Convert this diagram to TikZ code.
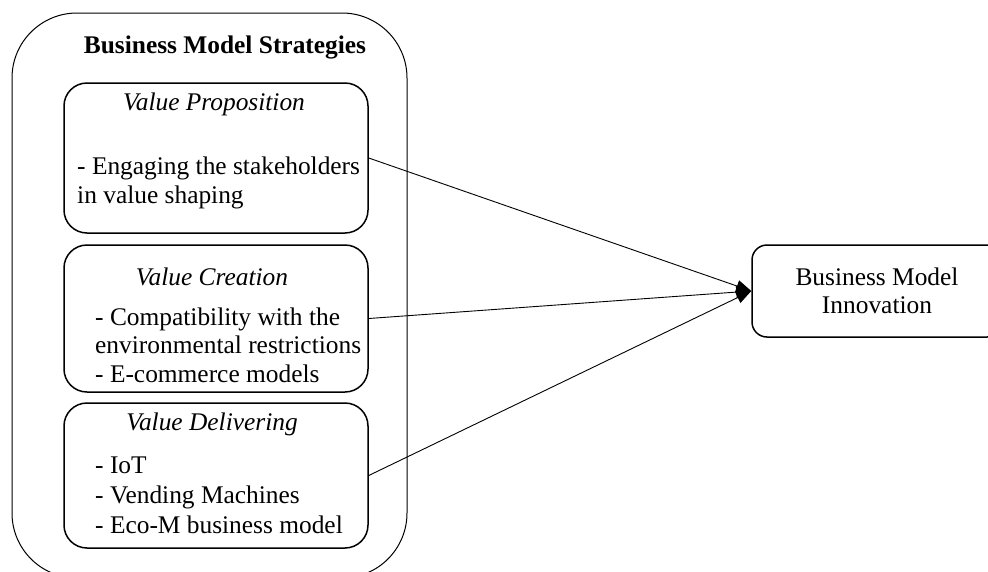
\documentclass[tikz,border=0pt]{standalone}
\usepackage{fontspec}
\setmainfont{Liberation Serif}
\usetikzlibrary{arrows.meta}
\begin{document}
\begin{tikzpicture}[x=1pt,y=-1pt,
  txt/.style={inner sep=0pt, font=\fontsize{25.4}{29}\selectfont},
  hdr/.style={txt, anchor=base, font=\fontsize{25.4}{29}\selectfont\itshape},
  body/.style={txt, anchor=base west},
  sub/.style={draw, line width=1.5pt, rounded corners=23pt, minimum width=304pt, inner sep=0pt},
  conn/.style={line width=0.9pt, -{Triangle[length=15pt,width=12pt]}}]
\useasboundingbox (0,0) rectangle (988,571);
% outer container
\node[draw, line width=1pt, rounded corners=65pt, minimum width=395pt, minimum height=565pt, inner sep=0pt] (outer) at (209.5,295.5) {};
\node[txt, anchor=base, font=\fontsize{25.4}{29}\selectfont\bfseries] (title) at (225,53) {Business Model Strategies};
% sub boxes
\node[sub, minimum height=150pt] (b1) at (216,158) {};
\node[sub, minimum height=147pt] (b2) at (216,318.5) {};
\node[sub, minimum height=145pt] (b3) at (216,475.5) {};
% box 1 text
\node[hdr] (h1) at (214,110) {Value Proposition};
\node[body] (t11) at (77,174) {- Engaging the stakeholders};
\node[body] (t12) at (77,203) {in value shaping};
% box 2 text
\node[hdr] (h2) at (212,285) {Value Creation};
\node[body] (t21) at (95,325) {- Compatibility with the};
\node[body] (t22) at (95,353.5) {environmental restrictions};
\node[body] (t23) at (95,382) {- E-commerce models};
% box 3 text
\node[hdr] (h3) at (212,430) {Value Delivering};
\node[body] (t31) at (95,473) {- IoT};
\node[body] (t32) at (95,503) {- Vending Machines};
\node[body] (t33) at (95,533) {- Eco-M business model};
% right box
\node[draw, line width=1.5pt, rounded corners=15pt, minimum width=250pt, minimum height=92pt, inner sep=0pt, align=center, font=\fontsize{25.4}{28}\selectfont] (rb) at (877,291) {Business Model\\Innovation};
% connectors
\draw[conn] (b1.east) -- (rb.west);
\draw[conn] (b2.east) -- (rb.west);
\draw[conn] (b3.east) -- (rb.west);
\end{tikzpicture}
\end{document}
